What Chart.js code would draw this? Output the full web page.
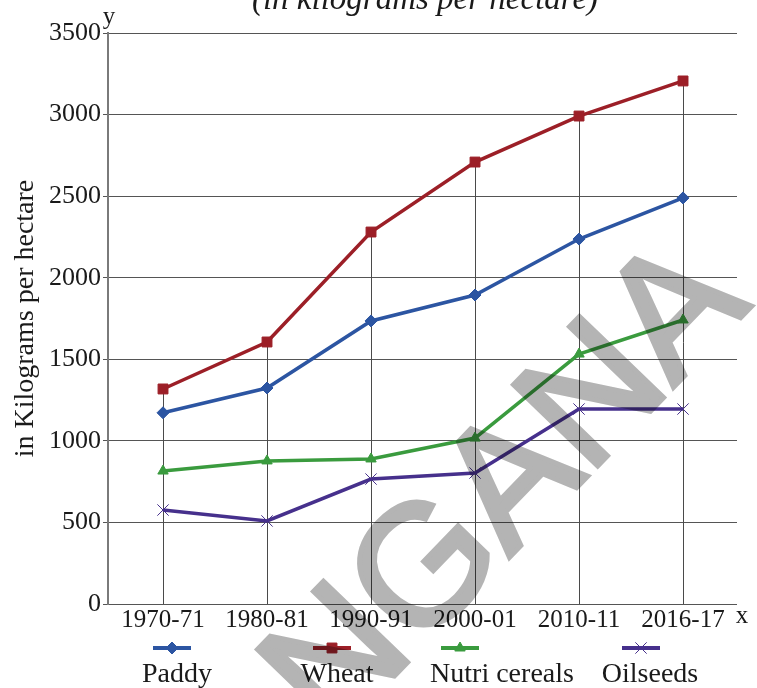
<!DOCTYPE html>
<html>
<head>
<meta charset="utf-8">
<title>Crop yields</title>
<script src="https://cdn.jsdelivr.net/npm/chart.js@4.4.1/dist/chart.umd.min.js"></script>
<style>
  html, body { margin: 0; padding: 0; background: #fff; }
  #wrap { position: relative; width: 757px; height: 688px; }
</style>
</head>
<body>
<div id="wrap"><canvas id="yieldChart" width="757" height="688"></canvas></div>
<script>
// yield per crop, kg per hectare
const periods = ['1970-71', '1980-81', '1990-91', '2000-01', '2010-11', '2016-17'];
const paddy = [1172, 1324, 1735, 1894, 2237, 2489];
const wheat = [1318, 1606, 2280, 2709, 2991, 3206];
const nutriCereals = [815, 877, 889, 1017, 1532, 1741];
const oilseeds = [576, 509, 766, 803, 1195, 1195];
const yMax = 3500;
const yStep = 500;

const SERIF = "'Liberation Serif', 'Times New Roman', serif";

const SERIES = [
  { label: 'Paddy', data: paddy, color: '#2c55a2', style: 'rectRot', radius: 6, legendX: 172, textX: 177 },
  { label: 'Wheat', data: wheat, color: '#9c1f27', style: 'rect', radius: 7, legendX: 332, textX: 337 },
  { label: 'Nutri cereals', data: nutriCereals, color: '#3a9b3e', style: 'triangle', radius: 6, legendX: 460, textX: 502 },
  { label: 'Oilseeds', data: oilseeds, color: '#46308c', style: 'crossRot', radius: 8, legendX: 641, textX: 650 },
];

// vertical line from the axis up to the highest point of each period
const dropLines = {
  id: 'dropLines',
  beforeDatasetsDraw(chart) {
    const { ctx, scales: { x, y } } = chart;
    ctx.save();
    ctx.strokeStyle = '#4a4a4a';
    ctx.lineWidth = 1;
    periods.forEach((_, i) => {
      const top = Math.max(...SERIES.map(s => s.data[i]));
      const px = Math.round(x.getPixelForValue(i + 1)) + 0.5;
      ctx.beginPath();
      ctx.moveTo(px, y.getPixelForValue(0));
      ctx.lineTo(px, y.getPixelForValue(top));
      ctx.stroke();
    });
    ctx.restore();
  },
};

// title, axis letters and the legend underneath
const decorations = {
  id: 'decorations',
  afterDraw(chart) {
    const { ctx, chartArea } = chart;
    ctx.save();
    ctx.fillStyle = '#1a1a1a';
    ctx.font = `italic 33px ${SERIF}`;
    ctx.textAlign = 'center';
    ctx.textBaseline = 'alphabetic';
    ctx.fillText('(in kilograms per hectare)', 425, 9);

    ctx.font = `25px ${SERIF}`;
    ctx.fillText('y', chartArea.left + 1, 24);
    ctx.textBaseline = 'middle';
    ctx.fillText('x', chartArea.right + 5, 616);

    ctx.font = `28px ${SERIF}`;
    SERIES.forEach(s => {
      const ly = 648;
      ctx.strokeStyle = s.color;
      ctx.fillStyle = s.color;
      ctx.lineWidth = 4;
      ctx.beginPath();
      ctx.moveTo(s.legendX - 19, ly);
      ctx.lineTo(s.legendX + 19, ly);
      ctx.stroke();
      ctx.lineWidth = 1;
      Chart.helpers.drawPoint(ctx, { pointStyle: s.style, radius: s.radius, rotation: 0, borderWidth: 1 }, s.legendX, ly);
      ctx.fillStyle = '#1a1a1a';
      ctx.textBaseline = 'middle';
      ctx.fillText(s.label, s.textX, 675);
    });
    ctx.restore();
  },
};

// diagonal grey stamp, drawn flat on its own layer then multiplied over the chart
const watermark = {
  id: 'watermark',
  afterDraw(chart) {
    const layer = document.createElement('canvas');
    layer.width = chart.width;
    layer.height = chart.height;
    const g = layer.getContext('2d');
    g.translate(752, 306);
    g.rotate(-46 * Math.PI / 180);
    g.font = "170px 'Liberation Sans', Arial, sans-serif";
    g.fillStyle = '#b4b4b4';
    g.strokeStyle = '#b4b4b4';
    g.lineWidth = 5;
    g.textAlign = 'right';
    g.textBaseline = 'alphabetic';
    g.fillText('TELANGANA', 0, 0);
    g.strokeText('TELANGANA', 0, 0);

    const ctx = chart.ctx;
    ctx.save();
    ctx.globalCompositeOperation = 'multiply';
    ctx.drawImage(layer, 0, 0);
    ctx.restore();
  },
};

new Chart(document.getElementById('yieldChart'), {
  type: 'line',
  data: {
    datasets: SERIES.map(s => ({
      label: s.label,
      data: s.data.map((v, i) => ({ x: i + 1, y: v })),
      borderColor: s.color,
      backgroundColor: s.color,
      borderWidth: 3.5,
      pointStyle: s.style,
      pointRadius: s.radius,
      pointBorderWidth: 1,
      pointBorderColor: s.color,
      pointBackgroundColor: s.color,
      tension: 0,
      fill: false,
    })),
  },
  options: {
    responsive: false,
    animation: false,
    events: [],
    layout: { padding: { top: 33, right: 20, bottom: 0, left: 0 } },
    plugins: {
      legend: { display: false },
      tooltip: { enabled: false },
    },
    scales: {
      x: {
        type: 'linear',
        min: 0.471,
        max: 6.519,
        afterBuildTicks: scale => { scale.ticks = periods.map((_, i) => ({ value: i + 1 })); },
        afterFit: scale => { scale.height = 84; },
        grid: { display: false, drawTicks: false },
        border: { display: false },
        ticks: {
          autoSkip: false,
          maxRotation: 0,
          padding: 1,
          color: '#1a1a1a',
          font: { family: SERIF, size: 25 },
          callback: v => periods[v - 1] || '',
        },
      },
      y: {
        min: 0,
        max: yMax,
        afterFit: scale => { scale.width = 108; },
        grid: { color: '#555', lineWidth: 1, tickLength: 5 },
        border: { color: '#7a7a7a', width: 2 },
        ticks: {
          stepSize: yStep,
          padding: 2,
          color: '#1a1a1a',
          font: { family: SERIF, size: 26 },
          callback: v => String(v),
        },
        title: {
          display: true,
          text: 'in Kilograms per hectare',
          color: '#1a1a1a',
          font: { family: SERIF, size: 28 },
          padding: { top: 9, bottom: 0 },
        },
      },
    },
  },
  plugins: [dropLines, decorations, watermark],
});
</script>
</body>
</html>
